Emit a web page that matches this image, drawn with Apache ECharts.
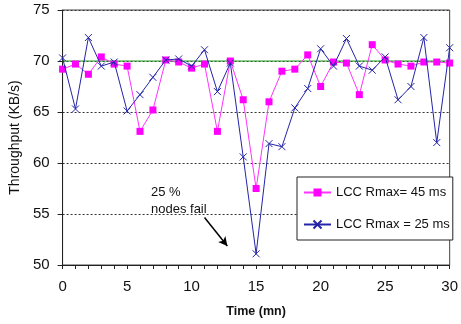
<!DOCTYPE html>
<html>
<head>
<meta charset="utf-8">
<script src="https://cdn.jsdelivr.net/npm/echarts@6/dist/echarts.min.js"></script>
<style>
  html, body { margin: 0; padding: 0; background: #fff; }
  #chart { width: 461px; height: 324px; }
</style>
</head>
<body>
<div id="chart"></div>
<script>
// Throughput over time for two LCC Rmax settings
const timeMn = [0, 1, 2, 3, 4, 5, 6, 7, 8, 9, 10, 11, 12, 13, 14, 15, 16, 17, 18, 19, 20, 21, 22, 23, 24, 25, 26, 27, 28, 29, 30];
const rmax45 = [69.2, 69.7, 68.7, 70.4, 69.7, 69.5, 63.1, 65.2, 70.1, 69.9, 69.3, 69.7, 63.1, 70.0, 66.2, 57.5, 66.0, 69.0, 69.2, 70.6, 67.5, 69.9, 69.8, 66.7, 71.6, 70.1, 69.7, 69.5, 69.9, 69.9, 69.8];
const rmax25 = [70.3, 65.3, 72.3, 69.5, 69.9, 65.1, 66.7, 68.4, 70.1, 70.2, 69.5, 71.1, 67.0, 69.8, 60.6, 51.1, 61.9, 61.6, 65.4, 67.3, 71.2, 69.5, 72.2, 69.5, 69.1, 70.4, 66.2, 67.5, 72.3, 62.0, 71.3];
const seriesNames = ['LCC Rmax= 45 ms', 'LCC Rmax = 25 ms'];
const referenceLevel = 70;
const failureArrow = [[11.0, 54.66], [12.77, 51.86]];
const noteLines = ['25 %', 'nodes fail'];

const FONT = '"Liberation Sans", Arial, sans-serif';
const chart = echarts.init(document.getElementById('chart'), null, { renderer: 'canvas' });

const pair = (xs, ys) => xs.map((x, i) => [x, ys[i]]);
const xMin = timeMn[0];
const xMax = timeMn[timeMn.length - 1];

chart.setOption({
  animation: false,
  backgroundColor: '#fff',
  textStyle: { fontFamily: FONT },
  grid: {
    left: 62, top: 10, width: 390, height: 255,
    show: true, borderColor: '#444', borderWidth: 1, backgroundColor: 'transparent'
  },
  xAxis: {
    type: 'value', min: 0, max: 30, interval: 1,
    name: 'Time (mn)', nameLocation: 'middle', nameGap: 40,
    nameTextStyle: { fontFamily: FONT, fontSize: 12.5, fontWeight: 'bold', color: '#111' },
    axisLine: { show: true, onZero: false, lineStyle: { color: '#222', width: 1 } },
    axisTick: { show: true, inside: false, length: 4, lineStyle: { color: '#222' } },
    axisLabel: {
      margin: 14, fontFamily: FONT, fontSize: 15, color: '#111',
      formatter: v => (v % 5 === 0 ? String(v) : '')
    },
    splitLine: { show: false }
  },
  yAxis: {
    type: 'value', min: 50, max: 75, interval: 5,
    name: 'Throughput (KB/s)', nameLocation: 'middle', nameGap: 31, nameRotate: 90,
    nameTextStyle: { fontFamily: FONT, fontSize: 14, color: '#111' },
    axisLine: { show: true, lineStyle: { color: '#222', width: 1 } },
    axisTick: { show: true, inside: false, length: 5, lineStyle: { color: '#222' } },
    axisLabel: { margin: 13, fontFamily: FONT, fontSize: 15, color: '#111' },
    splitLine: { show: true, lineStyle: { color: '#333', type: [2, 2], width: 1 } }
  },
  legend: {
    orient: 'vertical', left: 297, top: 177,
    padding: [9, 3, 9, 6], itemGap: 19, itemWidth: 27, itemHeight: 10,
    borderColor: '#222', borderWidth: 1, backgroundColor: '#fff',
    textStyle: { fontFamily: FONT, fontSize: 13, color: '#111' },
    data: seriesNames
  },
  series: [
    {
      // 70 KB/s reference level
      name: 'reference', type: 'line', data: [[xMin, referenceLevel], [xMax, referenceLevel]],
      symbol: 'none', silent: true,
      lineStyle: { color: '#22a022', width: 1.2 },
      z: 2
    },
    {
      name: seriesNames[0], type: 'line', data: pair(timeMn, rmax45),
      symbol: 'rect', symbolSize: 7, showAllSymbol: true,
      lineStyle: { color: '#ff33ff', width: 1 },
      itemStyle: { color: '#ff00ff' },
      z: 3
    },
    {
      name: seriesNames[1], type: 'line', data: pair(timeMn, rmax25),
      symbol: 'path://M0,0L10,10M10,0L0,10', symbolSize: 7, showAllSymbol: true,
      lineStyle: { color: '#2424a8', width: 1 },
      itemStyle: { color: '#2424a8', borderColor: '#2424a8', borderWidth: 1 },
      z: 4,
      markLine: {
        silent: true, symbol: ['none', 'arrow'], symbolSize: [7, 9],
        label: { show: false },
        lineStyle: { color: '#000', type: 'solid', width: 1.5 },
        data: [[{ coord: failureArrow[0] }, { coord: failureArrow[1] }]]
      }
    }
  ],
  graphic: [
    { type: 'text', left: 151, top: 186, style: { text: noteLines[0], font: '13px ' + FONT, fill: '#111' } },
    { type: 'text', left: 151, top: 203, style: { text: noteLines[1], font: '13px ' + FONT, fill: '#111' } }
  ]
});
</script>
</body>
</html>
